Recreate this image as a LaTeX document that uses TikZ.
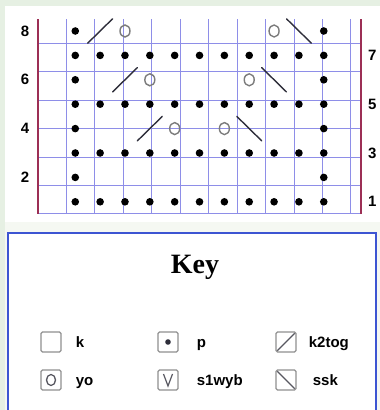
\documentclass[tikz,border=0pt]{standalone}
\usepackage{fontspec}
\setmainfont{Liberation Serif}
\setsansfont{Liberation Sans}
\usetikzlibrary{positioning}
\definecolor{Mint}{HTML}{E6F0E3}
\definecolor{Haze}{HTML}{F5F8F2}
\definecolor{Grid}{HTML}{8E8EE8}
\definecolor{Edge}{HTML}{9C2F55}
\definecolor{Frame}{HTML}{3D55D2}
\definecolor{Ring}{HTML}{7C7C7C}
\definecolor{Ink}{HTML}{2E2E3A}

\begin{document}
\begin{tikzpicture}[x=1pt, y=1pt, node distance=14pt,
    keybox/.style={draw=Ring!85, line width=1.3pt, rounded corners=1.5pt, minimum size=20pt, inner sep=0pt},
    keytext/.style={font=\sffamily\bfseries\fontsize{15}{17}\selectfont, inner sep=0pt},
    onbase/.style={anchor=base west, yshift=-5.5pt},
    rownum/.style={font=\sffamily\bfseries\fontsize{15}{17}\selectfont, inner sep=0pt},
    yarn/.style={draw=Ring, line width=1.4pt},
    dec/.style={draw=Ink, line width=1.4pt, line cap=round}]
  \useasboundingbox (0,0) rectangle (380,410);
  \fill[Mint] (0,0) rectangle (380,410);
  \fill[Haze] (5,0) rectangle (380,190);
  \fill[white] (5,188) rectangle (380,404);
  \draw[fill=white, draw=Frame, line width=2.4pt] (8,-5) rectangle (376,177);
  \begin{scope}[xshift=38pt, yshift=196pt, x=24.85pt, y=24.4pt]
    \draw[Grid, line width=1pt] (0,0) grid (13,8);
    \draw[Edge, line width=2pt] (0,0) -- (0,8) (13,0) -- (13,8);
    \foreach \r in {1,3,5,7}
      \foreach \c in {2,...,12}
        \fill (\c-0.5,\r-0.5) circle[radius=3.8pt];
    \foreach \r in {2,4,6,8} {
      \fill (1.5,\r-0.5) circle[radius=3.8pt];
      \fill (11.5,\r-0.5) circle[radius=3.8pt];
    }
    \foreach \r/\a in {4/5, 6/4, 8/3} {
      \draw[dec] (\a-1,\r-1) -- (\a,\r);
      \draw[yarn] (\a+0.5,\r-0.5) ellipse[x radius=5pt, y radius=6pt];
      \draw[yarn] (12.5-\a,\r-0.5) ellipse[x radius=5pt, y radius=6pt];
      \draw[dec] (13-\a,\r) -- (14-\a,\r-1);
    }
    \foreach \r in {2,4,6,8}
      \node[rownum] (left\r) at (-0.52,\r-0.5) {\r};
    \foreach \r in {1,3,5,7}
      \node[rownum] (right\r) at (13.45,\r-0.5) {\r};
  \end{scope}

  \node[font=\bfseries\fontsize{28}{30}\selectfont] (key) at (195,143) {Key};

  \node[keybox] (k) at (51,68) {};
  \node[keytext, right=of k, onbase] (ktext) {k};
  \node[keybox] (p) at (168,68) {};
  \node[keytext, right=18pt of p, onbase] (ptext) {p};
  \node[keybox] (tog) at (286,68) {};
  \node[keytext, right=12pt of tog, onbase] (togtext) {k2tog};
  \node[keybox] (yo) at (51,30) {};
  \node[keytext, right=of yo, onbase] (yotext) {yo};
  \node[keybox] (sl) at (168,30) {};
  \node[keytext, right=18pt of sl, onbase] (sltext) {s1wyb};
  \node[keybox] (ssk) at (286,30) {};
  \node[keytext, right=16pt of ssk, onbase] (ssktext) {ssk};

  \fill[Ink] (p) circle[radius=2.8pt];
  \draw[draw=Ink!80, line width=1.3pt] (yo) ellipse[x radius=4.5pt, y radius=5.5pt];
  \draw[draw=Ink!80, line width=1.2pt] ([shift={(-4.5pt,6pt)}]sl.center) -- ([shift={(0pt,-6pt)}]sl.center) -- ([shift={(4.5pt,6pt)}]sl.center);
  \draw[draw=Ink!80, line width=1.2pt] ([shift={(2pt,2pt)}]tog.south west) -- ([shift={(-2pt,-2pt)}]tog.north east);
  \draw[draw=Ink!80, line width=1.2pt] ([shift={(2pt,-2pt)}]ssk.north west) -- ([shift={(-2pt,2pt)}]ssk.south east);
\end{tikzpicture}
\end{document}
